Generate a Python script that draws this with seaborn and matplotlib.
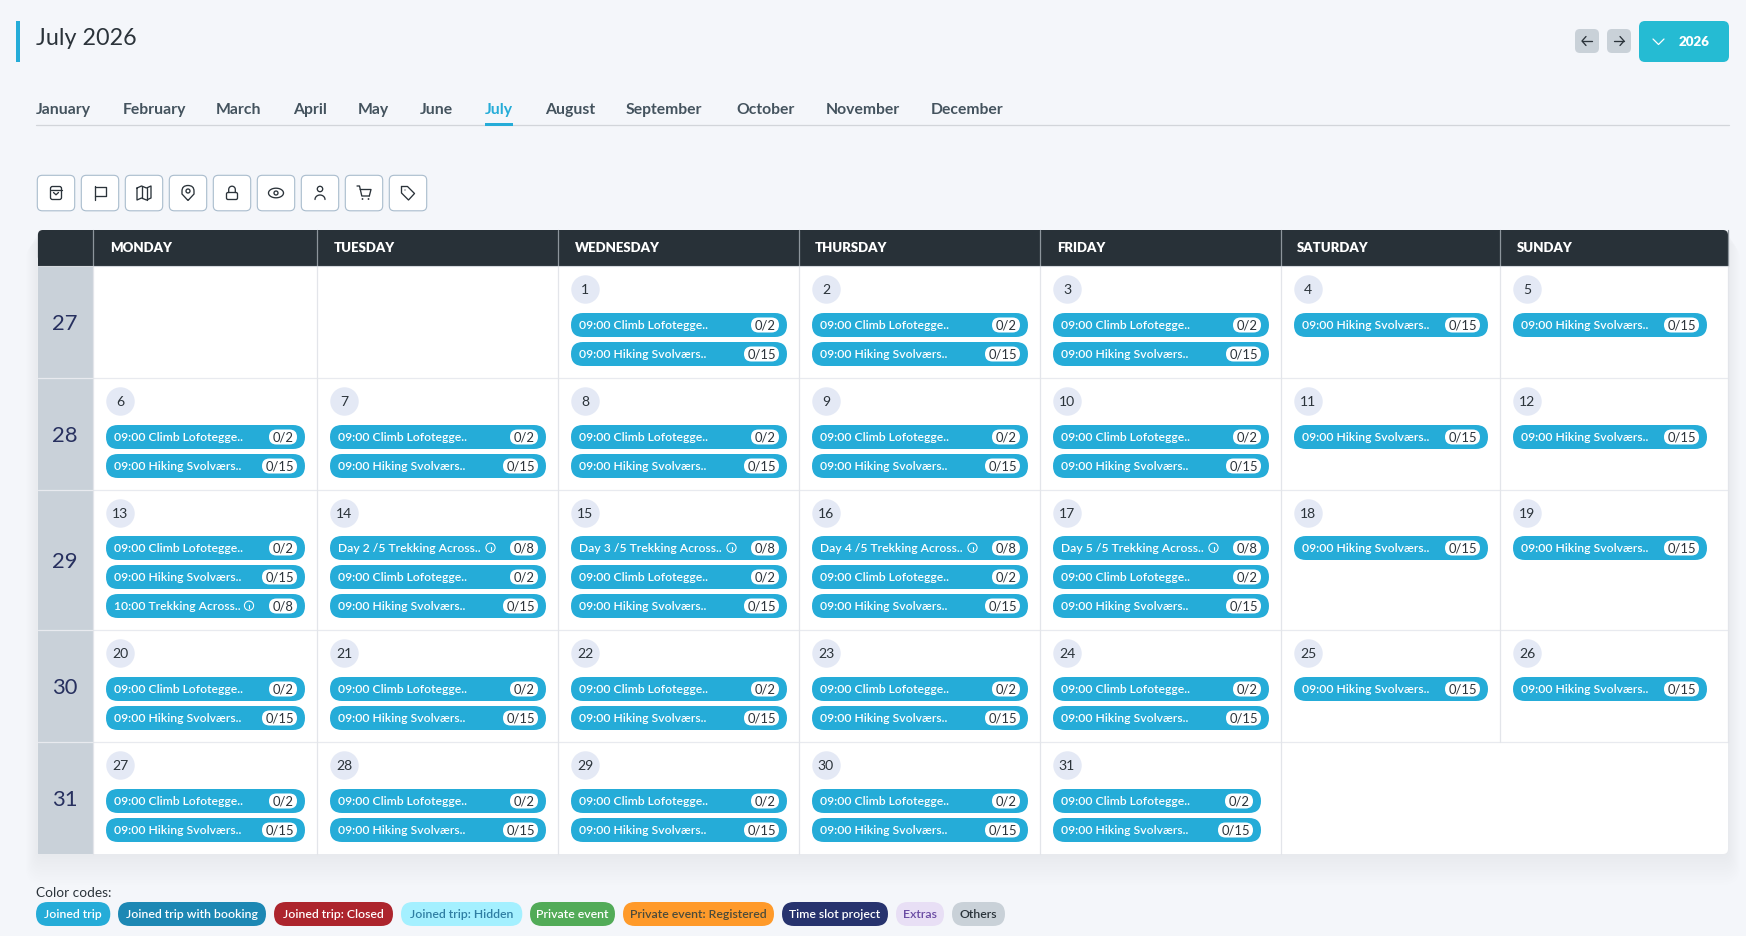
import numpy as np
import pandas as pd
import seaborn as sns
import matplotlib
matplotlib.use("Agg")
import matplotlib.pyplot as plt
from matplotlib.patches import FancyBboxPatch, Rectangle, Circle, PathPatch
from matplotlib.path import Path

# ---------- data ----------
months = ["January", "February", "March", "April", "May", "June", "July",
          "August", "September", "October", "November", "December"]
active_month = "July"
title = "July 2026"
year_label = "2026"
weekdays = ["MONDAY", "TUESDAY", "WEDNESDAY", "THURSDAY", "FRIDAY", "SATURDAY", "SUNDAY"]
week_numbers = [27, 28, 29, 30, 31]
week_days = [[0, 0, 1, 2, 3, 4, 5],
             [6, 7, 8, 9, 10, 11, 12],
             [13, 14, 15, 16, 17, 18, 19],
             [20, 21, 22, 23, 24, 25, 26],
             [27, 28, 29, 30, 31, 0, 0]]
event_labels = {"C": "09:00 Climb Lofotegge..",
                "H": "09:00 Hiking Svolværs..",
                "T": "10:00 Trekking Across..",
                "2": "Day 2 /5 Trekking Across..",
                "3": "Day 3 /5 Trekking Across..",
                "4": "Day 4 /5 Trekking Across..",
                "5": "Day 5 /5 Trekking Across.."}
event_seats = {"C": "0/2", "H": "0/15", "T": "0/8", "2": "0/8", "3": "0/8", "4": "0/8", "5": "0/8"}
day_events = ["CH", "CH", "CH", "H", "H",
              "CH", "CH", "CH", "CH", "CH", "H", "H",
              "CHT", "2CH", "3CH", "4CH", "5CH", "H", "H",
              "CH", "CH", "CH", "CH", "CH", "H", "H",
              "CH", "CH", "CH", "CH", "CH"]
legend_title = "Color codes:"
legend_labels = ["Joined trip", "Joined trip with booking", "Joined trip: Closed", "Joined trip: Hidden",
                 "Private event", "Private event: Registered", "Time slot project", "Extras", "Others"]
legend_fill = ["#25acd8", "#1d88b4", "#ad252d", "#a4f0ff", "#52ab58", "#ff9a2a", "#27336e", "#e8dff5", "#c9d1d8"]
legend_ink = ["white", "white", "white", "#2f7ea3", "white", "#4b4b3a", "white", "#6a4ba3", "#2a333a"]

# ---------- layout (pixels) ----------
BG = "#f4f6fa"
INK = "#2b333a"
CHIP = "#25acd8"
FONT = "Lato"
month_x = [36, 123, 216, 292.7, 358, 420, 485, 545, 626, 736, 826, 931]
col_edges = [93, 317, 558, 799, 1040, 1281, 1500, 1728]
header_x = [110, 333.5, 575, 815, 1056.7, 1297, 1517]
row_edges = [266, 378, 490, 630, 742, 854]
chip_x = [106, 330, 571, 812, 1053, 1294, 1513]
chip_width = [199, 216, 216, 216, 216, 194, 194]
legend_edges = [(36, 110.3), (118, 266), (274, 393), (401, 522.3), (530, 615),
                (623, 774), (782, 888), (896, 944), (952, 1005)]

sns.set_theme(style="white", rc={"figure.facecolor": BG, "axes.facecolor": BG})
plt.rcParams["font.family"] = [FONT, "DejaVu Sans"]

fig = plt.figure(figsize=(17.46, 9.36), dpi=100)
ax = fig.add_axes([0, 0, 1, 1])
ax.set_xlim(0, 1746)
ax.set_ylim(936, 0)
ax.axis("off")


def label(x, cy, s, px, color=INK, ha="left", weight="normal", z=6):
    ax.text(x, cy + 0.355 * px, s, fontsize=px * 0.72, color=color, ha=ha, va="baseline",
            fontweight=weight, zorder=z)


def rbox(x0, y0, x1, y1, r, fc, ec="none", lw=0, z=2, alpha=None):
    ax.add_patch(FancyBboxPatch((x0 + r, y0 + r), x1 - x0 - 2 * r, y1 - y0 - 2 * r,
                                boxstyle=f"round,pad={r},rounding_size={r}", fc=fc, ec=ec,
                                lw=lw, zorder=z, alpha=alpha))


def stroke(xs, ys, color=INK, lw=0.95, z=7):
    ax.plot(xs, ys, color=color, lw=lw, solid_capstyle="round", solid_joinstyle="round", zorder=z)


# header area
ax.add_patch(Rectangle((16, 21), 4, 41, fc="#25acd8", lw=0, zorder=2))
label(36, 37, title, 23.2, INK)
for name, x in zip(months, month_x):
    label(x, 108.5, name, 15.8, "#25acd8" if name == active_month else "#44535e", weight=700)
stroke([36, 1729], [125, 125], "#d2d5da", 0.9, 2)
ax.add_patch(Rectangle((485, 123), 28, 2.5, fc="#25acd8", lw=0, zorder=3))

# nav buttons
rbox(1575, 29, 1599, 53, 5, "#c9d1d8")
rbox(1607, 29, 1631, 53, 5, "#c9d1d8")
rbox(1639, 21, 1729, 62, 6, "#25bbd3")
for cx, d in ((1587, -1), (1619, 1)):
    stroke([cx - 5, cx + 5], [41, 41])
    stroke([cx + d * 1, cx + d * 5, cx + d * 1], [36.5, 41, 45.5])
stroke([1653, 1658.5, 1664], [39, 44.5, 39], "white", 0.9)
label(1678.7, 41, year_label, 13.4, "white", weight=800)


# toolbar icons
def bag(c, y):
    rbox(c - 5.5, y - 6.5, c + 5.5, y + 6.5, 2, "none", INK, 0.95, 7)
    stroke([c - 5.5, c + 5.5], [y - 3.5, y - 3.5])
    stroke([c - 2.5, c, c + 2.5], [y - 0.5, y + 1.8, y - 0.5])


def flag(c, y):
    stroke([c - 5, c - 5], [y - 7, y + 7])
    stroke([c - 5, c + 5.5, c + 5.5, c - 5], [y - 6, y - 6, y + 2.5, y + 2.5])


def chart_map(c, y):
    stroke([c - 7, c - 2.5, c + 2.5, c + 7, c + 7, c + 2.5, c - 2.5, c - 7, c - 7],
           [y - 5, y - 7, y - 5, y - 7, y + 5, y + 7, y + 5, y + 7, y - 5])
    stroke([c - 2.5, c - 2.5], [y - 7, y + 5])
    stroke([c + 2.5, c + 2.5], [y - 5, y + 7])


def pin(c, y):
    verts = [(c, y + 7.5), (c - 6, y + 1), (c - 6, y - 2), (c - 6, y - 7.5), (c, y - 7.5),
             (c + 6, y - 7.5), (c + 6, y - 2), (c + 6, y + 1), (c, y + 7.5)]
    codes = [Path.MOVETO, Path.LINETO, Path.LINETO, Path.CURVE3, Path.CURVE3,
             Path.CURVE3, Path.CURVE3, Path.LINETO, Path.LINETO]
    ax.add_patch(PathPatch(Path(verts, codes), fc="none", ec=INK, lw=0.95, zorder=7))
    ax.add_patch(Circle((c, y - 2), 2, fc="none", ec=INK, lw=0.95, zorder=7))


def lock(c, y):
    rbox(c - 5.5, y - 0.5, c + 5.5, y + 6.5, 1.5, "none", INK, 0.95, 7)
    t = np.linspace(np.pi, 2 * np.pi, 20)
    xs = c + 3.3 * np.cos(t)
    ys = y - 3.5 + 3.3 * np.sin(t)
    stroke(np.r_[xs[0], xs, xs[-1]], np.r_[y - 0.5, ys, y - 0.5])


def eye(c, y):
    t = np.linspace(0, 2 * np.pi, 60)
    stroke(c + 7.5 * np.cos(t), y + 4.8 * np.sin(t))
    ax.add_patch(Circle((c, y), 2, fc="none", ec=INK, lw=0.95, zorder=7))


def person(c, y):
    ax.add_patch(Circle((c, y - 4), 2.7, fc="none", ec=INK, lw=0.95, zorder=7))
    t = np.linspace(np.pi, 2 * np.pi, 20)
    stroke(c + 5 * np.cos(t), y + 6.5 + 4.5 * np.sin(t))


def cart(c, y):
    stroke([c - 7, c - 4.5, c - 2.2, c + 5.3], [y - 7, y - 7, y + 3, y + 3])
    stroke([c - 3.8, c + 7, c + 5.3], [y - 3.5, y - 3.5, y + 3])
    ax.add_patch(Circle((c - 1.5, y + 6), 0.9, fc=INK, lw=0, zorder=7))
    ax.add_patch(Circle((c + 4.5, y + 6), 0.9, fc=INK, lw=0, zorder=7))


def tag(c, y):
    stroke([c - 6.5, c - 0.5, c + 6.5, c + 0.5, c - 6.5, c - 6.5],
           [y - 6.5, y - 6.5, y + 0.5, y + 7, y + 0, y - 6.5])
    ax.add_patch(Circle((c - 3, y - 3), 0.6, fc=INK, lw=0, zorder=7))


for i, draw in enumerate([bag, flag, chart_map, pin, lock, eye, person, cart, tag]):
    x0 = 37.3 + i * 44
    rbox(x0, 175.3, x0 + 37.4, 210.8, 5, "white", "#a9bccd", 0.8, 3)
    draw(x0 + 18.7, 193)

# shadow + table body
for g in range(1, 13):
    rbox(37.9 - g, 230 + g, 1728 + g, 854 + g * 2.6, 6 + g, "#5a6a90", z=1, alpha=0.0035)
rbox(37.9, 230, 1728, 854, 5, "white", z=2)
rbox(37.9, 230, 1728, 262, 5, "#283138", z=3)
ax.add_patch(Rectangle((37.9, 240), 1728 - 37.9, 26, fc="#283138", lw=0, zorder=3))
ax.add_patch(Rectangle((37.9, 266), col_edges[0] - 37.9, 588, fc="#c9d1d9", lw=0, zorder=3))

for y in row_edges[1:-1]:
    stroke([37.9, 1728], [y, y], "#e8eaef", 0.9, 4)
for i, x in enumerate(col_edges):
    stroke([x, x], [230, 266], "#8d959c", 0.9, 4)
    end = row_edges[-1] if i <= 5 else row_edges[-2]
    stroke([x, x], [266, end], "#e3e5ea", 0.9, 4)
stroke([37.9, 1728], [266, 266], "#d5d9de", 0.8, 4)
for name, x in zip(weekdays, header_x):
    label(x, 247.5, name, 13.2, "white", weight=800)
for n, y0, y1 in zip(week_numbers, row_edges[:-1], row_edges[1:]):
    label(65, (y0 + y1) / 2, str(n), 22, "#27305f", ha="center")

# day badges via seaborn scatter
records = []
for r, days in enumerate(week_days):
    for c, d in enumerate(days):
        if d:
            records.append({"x": chip_x[c] + 14, "y": row_edges[r] + 23, "day": d,
                            "row": r, "col": c})
cells = pd.DataFrame(records)
sns.scatterplot(data=cells, x="x", y="y", s=420, color="#e4e9f5", linewidth=0, zorder=5, ax=ax, legend=False)
ax.set_xlim(0, 1746)
ax.set_ylim(936, 0)
ax.axis("off")

for cell in cells.itertuples():
    label(cell.x, cell.y, str(cell.day), 14, INK, ha="center")
    left = chip_x[cell.col]
    width = chip_width[cell.col] - (8 if cell.day == 31 else 0)
    codes = day_events[cell.day - 1]
    base = 46 if cell.row == 2 else 47
    for k, code in enumerate(codes):
        top = row_edges[cell.row] + base + k * 29
        rbox(left, top, left + width, top + 24, 12, CHIP, z=5)
        text = event_labels[code]
        label(left + 8, top + 12, text, 12.15, "white", weight=600)
        seats = event_seats[code]
        bw = 35 if len(seats) == 4 else 28
        rbox(left + width - 8 - bw, top + 4.5, left + width - 8, top + 19.5, 7.5, "white", z=6)
        label(left + width - 8 - bw / 2, top + 12, seats, 13, INK, ha="center", z=7)
        if code in "T2345":
            ix = left + (143 if code == "T" else 160.5)
            ax.add_patch(Circle((ix, top + 11.7), 4.6, fc="none", ec="white", lw=0.75, zorder=7))
            stroke([ix, ix], [top + 10.8, top + 14.2], "white", 0.8)
            stroke([ix, ix], [top + 8.9, top + 9.0], "white", 0.8)

# legend
label(36, 892, legend_title, 13.6, INK)
for name, (x0, x1), fc, ink in zip(legend_labels, legend_edges, legend_fill, legend_ink):
    rbox(x0, 902, x1, 926, 12, fc, z=3)
    label((x0 + x1) / 2, 914, name, 12.2, ink, ha="center", weight=600)

fig.savefig("out.png", dpi=100, facecolor=BG)
